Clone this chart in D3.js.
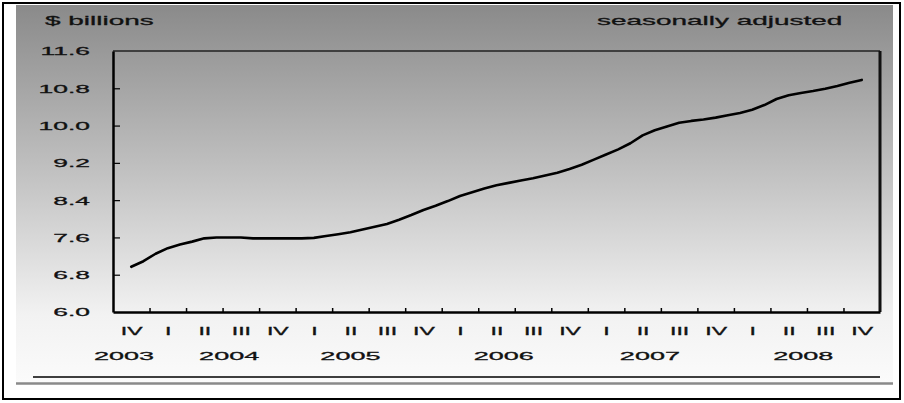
<!DOCTYPE html>
<html><head><meta charset="utf-8">
<script src="https://cdn.jsdelivr.net/npm/d3@7"></script>
<style>html,body{margin:0;padding:0;background:#fff;}svg{display:block;}text{font-family:"Liberation Sans",Arial,sans-serif;fill:#111;stroke:#111;stroke-width:0.28px;}</style>
</head><body>
<script>
// ---- data ----
const quarterLabels = ["IV","I","II","III","IV","I","II","III","IV","I","II","III","IV","I","II","III","IV","I","II","III","IV"];
const years = ["2003","2004","2005","2006","2007","2008"];
const yearQuarterPos = [-0.2, 2.68, 6.0, 10.2, 14.2, 18.4];
const yTicks = [6.0, 6.8, 7.6, 8.4, 9.2, 10.0, 10.8, 11.6];
// monthly values, Nov 2003 .. Nov 2008 ($ billions, seasonally adjusted)
const monthlyValues = [
  6.97, 7.09, 7.25, 7.37, 7.45, 7.51, 7.58, 7.60, 7.60, 7.60,
  7.58, 7.58, 7.58, 7.58, 7.58, 7.59, 7.63, 7.67, 7.71, 7.77,
  7.83, 7.89, 7.98, 8.08, 8.19, 8.28, 8.38, 8.49, 8.57, 8.65,
  8.72, 8.77, 8.82, 8.87, 8.93, 8.99, 9.07, 9.16, 9.27, 9.38,
  9.49, 9.62, 9.79, 9.90, 9.98, 10.06, 10.10, 10.13, 10.17, 10.22,
  10.27, 10.34, 10.44, 10.57, 10.65, 10.70, 10.74, 10.79, 10.85, 10.92,
  10.98
];
const unitLabel = "$ billions";
const noteLabel = "seasonally adjusted";

// ---- layout ----
const W = 904, H = 403;
const plot = {left: 113, right: 880, top: 51, bottom: 312};

const svg = d3.select("body").append("svg").attr("width", W).attr("height", H);
const defs = svg.append("defs");
const grad = defs.append("linearGradient").attr("id","bg").attr("x1",0).attr("y1",0).attr("x2",0).attr("y2",1);
grad.append("stop").attr("offset","0%").attr("stop-color","#8a8a8a");
grad.append("stop").attr("offset","45%").attr("stop-color","#c2c2c2");
grad.append("stop").attr("offset","82%").attr("stop-color","#f2f2f2");
grad.append("stop").attr("offset","100%").attr("stop-color","#fbfbfb");

svg.append("rect").attr("x",0).attr("y",0).attr("width",W).attr("height",H).attr("fill","#fff");
// panel
svg.append("rect").attr("x",16).attr("y",5).attr("width",877).attr("height",378).attr("fill","url(#bg)");
// bottom rules
svg.append("line").attr("x1",16).attr("x2",893).attr("y1",383.5).attr("y2",383.5).attr("stroke","#8a8a8a").attr("stroke-width",2.5);
svg.append("line").attr("x1",33).attr("x2",880).attr("y1",377).attr("y2",377).attr("stroke","#000").attr("stroke-width",1.5);
// outer frame
svg.append("rect").attr("x",3).attr("y",3).attr("width",897).attr("height",396).attr("fill","none").attr("stroke","#000").attr("stroke-width",2);

// scales
const y = d3.scaleLinear().domain([6.0, 11.6]).range([plot.bottom, plot.top]);
const xq = d3.scaleLinear().domain([-0.5, quarterLabels.length - 0.5]).range([plot.left, plot.right]);

// plot frame top/right
svg.append("line").attr("x1",plot.left).attr("x2",plot.right).attr("y1",plot.top).attr("y2",plot.top).attr("stroke","#222").attr("stroke-width",1.5);
svg.append("line").attr("x1",plot.right).attr("x2",plot.right).attr("y1",plot.top).attr("y2",plot.bottom).attr("stroke","#111").attr("stroke-width",3);

function stretch(sel, k){
  sel.each(function(){
    const t = d3.select(this);
    const x = +t.attr("x") || 0;
    const yy = +t.attr("y") || 0;
    t.attr("x",0).attr("y",0).attr("transform", `translate(${x},${yy}) scale(${k},1)`);
  });
}

// y axis
const yAxis = d3.axisLeft(y).tickValues(yTicks).tickFormat(d3.format(".1f")).tickSizeInner(-7).tickSizeOuter(0).tickPadding(23);
const gy = svg.append("g").attr("transform",`translate(${plot.left},0)`).call(yAxis);
gy.select(".domain").attr("stroke","#000").attr("stroke-width",2.5);
gy.selectAll(".tick line").attr("stroke","#000").attr("stroke-width",1.2)
  .filter(d => d === 6.0 || d === 11.6).remove();
gy.selectAll(".tick text").attr("font-size",11).attr("font-family",null).attr("fill","#111").attr("dy","0.36em");
stretch(gy.selectAll(".tick text"), 2.4);

// x axis ticks at quarter boundaries
const xTickAxis = d3.axisBottom(xq).tickValues(d3.range(0.5, quarterLabels.length - 1, 1)).tickSizeInner(-4).tickSizeOuter(0).tickFormat("");
const gx = svg.append("g").attr("transform",`translate(0,${plot.bottom})`).call(xTickAxis);
gx.select(".domain").attr("stroke","#000").attr("stroke-width",2.5);
gx.selectAll(".tick line").attr("stroke","#000").attr("stroke-width",1.5);

// quarter labels
const xLabAxis = d3.axisBottom(xq).tickValues(d3.range(quarterLabels.length)).tickSize(0).tickPadding(15).tickFormat(i => quarterLabels[i]);
const gxl = svg.append("g").attr("transform",`translate(0,${plot.bottom})`).call(xLabAxis);
gxl.select(".domain").remove();
gxl.selectAll(".tick text").attr("font-size",11).attr("font-family",null).attr("fill","#111");
stretch(gxl.selectAll(".tick text"), 2.1);

// year labels
const gyears = svg.append("g");
gyears.selectAll("text").data(years).join("text")
  .attr("x",(d,i) => xq(yearQuarterPos[i])).attr("y",360)
  .attr("text-anchor","middle").attr("font-size",11.5).text(d => d);
stretch(gyears.selectAll("text"), 2.35);

// header texts
const head = svg.append("g");
head.append("text").attr("x",45).attr("y",25).attr("font-size",13).text(unitLabel);
head.append("text").attr("x",597).attr("y",25).attr("font-size",13).text(noteLabel);
stretch(head.selectAll("text"), 2.15);

// line
const line = d3.line().x((d,i) => xq(i/3)).y(d => y(d));
svg.append("path").datum(monthlyValues).attr("d",line).attr("fill","none")
  .attr("stroke","#000").attr("stroke-width",2.6).attr("stroke-linejoin","round").attr("stroke-linecap","round");
</script>
</body></html>
